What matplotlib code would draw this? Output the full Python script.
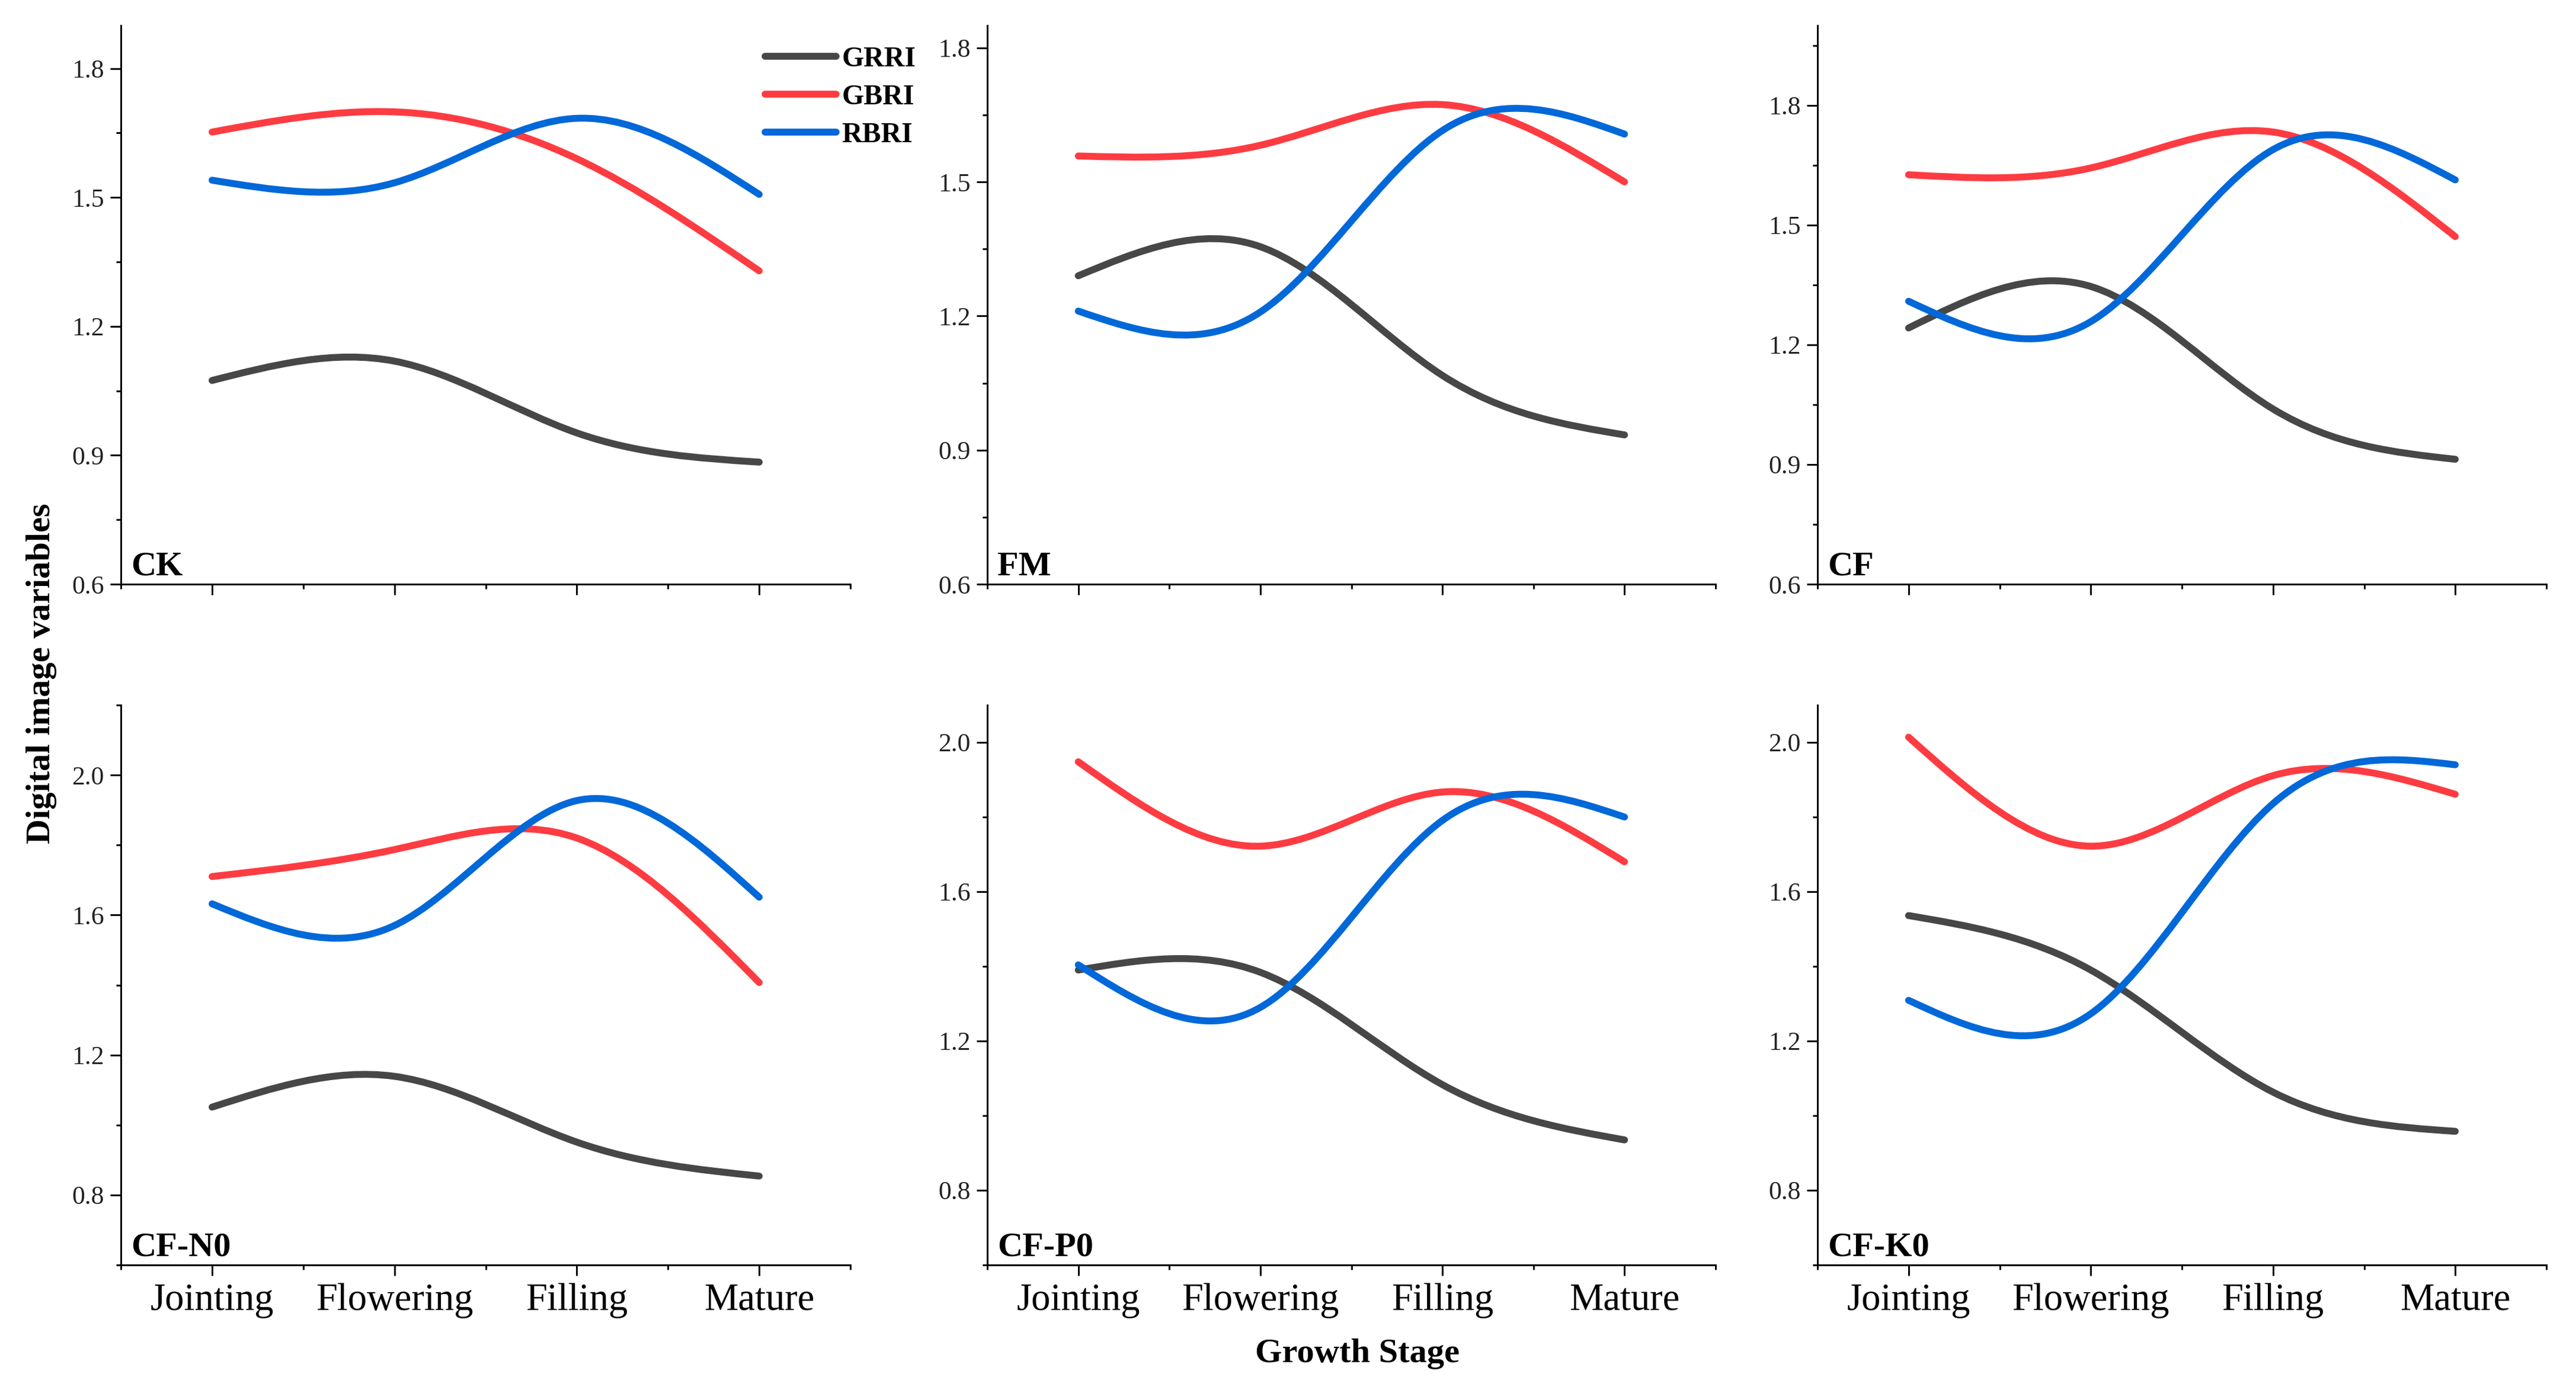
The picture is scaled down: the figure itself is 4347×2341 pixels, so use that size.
import numpy as np
import matplotlib
matplotlib.use("Agg")
import matplotlib.pyplot as plt
from matplotlib.path import Path
from matplotlib.patches import PathPatch
from matplotlib.lines import Line2D
from matplotlib.ticker import MultipleLocator, FormatStrFormatter

plt.rcParams['font.family'] = ['Liberation Serif', 'DejaVu Serif']

stages = ["Jointing", "Flowering", "Filling", "Mature"]
series_names = ["GRRI", "GBRI", "RBRI"]
colors = ["#474747", "#fd3c42", "#0068d8"]

# values, one list per index and treatment
grri_ck = [1.074, 1.119, 0.952, 0.884]
gbri_ck = [1.652, 1.699, 1.590, 1.329]
rbri_ck = [1.540, 1.534, 1.684, 1.507]

grri_fm = [1.290, 1.355, 1.067, 0.934]
gbri_fm = [1.558, 1.582, 1.673, 1.500]
rbri_fm = [1.211, 1.209, 1.615, 1.607]

grri_cf = [1.242, 1.346, 1.039, 0.913]
gbri_cf = [1.626, 1.643, 1.733, 1.471]
rbri_cf = [1.309, 1.258, 1.689, 1.613]

grri_n0 = [1.051, 1.139, 0.951, 0.854]
gbri_n0 = [1.710, 1.787, 1.820, 1.407]
rbri_n0 = [1.632, 1.570, 1.927, 1.651]

grri_p0 = [1.390, 1.384, 1.083, 0.935]
gbri_p0 = [1.948, 1.722, 1.867, 1.680]
rbri_p0 = [1.404, 1.290, 1.791, 1.800]

grri_k0 = [1.536, 1.390, 1.063, 0.958]
gbri_k0 = [2.014, 1.722, 1.911, 1.861]
rbri_k0 = [1.309, 1.273, 1.836, 1.940]

panels = [
    ("CK", [grri_ck, gbri_ck, rbri_ck], (0.6, 1.9), 0.3),
    ("FM", [grri_fm, gbri_fm, rbri_fm], (0.6, 1.85), 0.3),
    ("CF", [grri_cf, gbri_cf, rbri_cf], (0.6, 2.0), 0.3),
    ("CF-N0", [grri_n0, gbri_n0, rbri_n0], (0.6, 2.2), 0.4),
    ("CF-P0", [grri_p0, gbri_p0, rbri_p0], (0.6, 2.1), 0.4),
    ("CF-K0", [grri_k0, gbri_k0, rbri_k0], (0.6, 2.1), 0.4),
]


def spline_path(y):
    # natural cubic spline through the points, drawn as bezier segments
    y = np.asarray(y, dtype=float)
    n = len(y)
    x = np.arange(1, n + 1, dtype=float)
    A = np.zeros((n, n))
    b = np.zeros(n)
    A[0, 0] = 1
    A[-1, -1] = 1
    for i in range(1, n - 1):
        A[i, i - 1:i + 2] = [1, 4, 1]
        b[i] = 6 * (y[i - 1] - 2 * y[i] + y[i + 1])
    M = np.linalg.solve(A, b)
    d = np.zeros(n)
    for i in range(n - 1):
        d[i] = (y[i + 1] - y[i]) - (2 * M[i] + M[i + 1]) / 6
    d[-1] = (y[-1] - y[-2]) + (M[-2] + 2 * M[-1]) / 6
    verts = [(x[0], y[0])]
    codes = [Path.MOVETO]
    for i in range(n - 1):
        verts += [(x[i] + 1 / 3, y[i] + d[i] / 3),
                  (x[i + 1] - 1 / 3, y[i + 1] - d[i + 1] / 3),
                  (x[i + 1], y[i + 1])]
        codes += [Path.CURVE4] * 3
    return Path(verts, codes)


fig = plt.figure(figsize=(4347 / 300, 2341 / 300), dpi=300)

lefts = [204, 1666, 3067]
widths = [1231, 1229, 1230]
tops = [43, 1190]
heights = [943, 945]

for k, (name, vals, ylim, step) in enumerate(panels):
    r, c = divmod(k, 3)
    ax = fig.add_axes([lefts[c] / 4347, 1 - (tops[r] + heights[r]) / 2341,
                       widths[c] / 4347, heights[r] / 2341])
    for v, col in zip(vals, colors):
        ax.add_patch(PathPatch(spline_path(v), fill=False, edgecolor=col,
                               lw=2.8, capstyle='round', joinstyle='round'))
    ax.set_xlim(0.5, 4.5)
    ax.set_ylim(*ylim)
    ax.set_xticks(range(1, 5))
    ax.xaxis.set_minor_locator(MultipleLocator(0.5))
    ax.yaxis.set_major_locator(MultipleLocator(step))
    ax.yaxis.set_minor_locator(MultipleLocator(step / 2))
    ax.yaxis.set_major_formatter(FormatStrFormatter('%.1f'))
    if r == 1:
        ax.set_xticklabels(stages, fontsize=15.5)
    else:
        ax.set_xticklabels([])
    ax.tick_params(which='major', direction='out', length=4.3, width=0.7,
                   pad=3)
    ax.tick_params(which='minor', direction='out', length=2, width=0.7)
    ax.tick_params(axis='y', labelsize=10.5, pad=2.5, labelcolor='#222222')
    for s in ['top', 'right']:
        ax.spines[s].set_visible(False)
    for s in ['left', 'bottom']:
        ax.spines[s].set_linewidth(0.7)
    ax.text(0.014, 0.016, name, transform=ax.transAxes, fontsize=14,
            fontweight='bold', va='baseline', ha='left')

handles = [Line2D([], [], color=col, lw=2.8, solid_capstyle='round')
           for col in colors]
fig.legend(handles, series_names, loc='upper left',
           bbox_to_anchor=(1291 / 4347, 1 - 78 / 2341),
           bbox_transform=fig.transFigure, frameon=False, borderpad=0,
           borderaxespad=0, handlelength=2.5, handletextpad=0.2,
           labelspacing=0.42, prop={'weight': 'bold', 'size': 11.5})

fig.text(70 / 4347, 1 - 1137 / 2341, "Digital image variables", rotation=90,
         fontsize=14, fontweight='bold', ha='center', va='center')
fig.text(2291 / 4347, 1 - 2285 / 2341, "Growth Stage", fontsize=14,
         fontweight='bold', ha='center', va='center')

fig.savefig("out.png", dpi=300)
